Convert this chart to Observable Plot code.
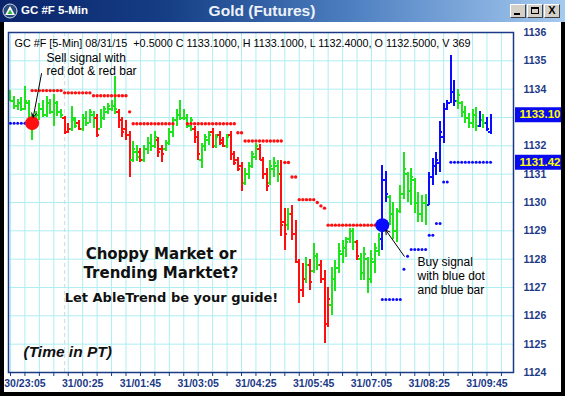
<!DOCTYPE html>
<html>
<head>
<meta charset="utf-8">
<script src="https://cdn.jsdelivr.net/npm/d3@7"></script>
<script src="https://cdn.jsdelivr.net/npm/@observablehq/plot@0.6"></script>
<style>
  body { margin: 0; background: #000; }
  #win { position: relative; width: 565px; height: 396px; background: #000; overflow: hidden;
         font-family: "Liberation Sans", Arial, sans-serif; }
  #titlebar { position: absolute; left: 0; top: 0; width: 565px; height: 22px;
              background: linear-gradient(90deg, #0a246a 0%, #163f86 30%, #4d7fc0 62%, #a6caf0 100%); }
  #titlebar .sym { position: absolute; left: 2px; top: 3px; }
  #titlebar .left { position: absolute; left: 21px; top: 4px; color: #fff; font-weight: bold; font-size: 11.5px; }
  #titlebar .center { position: absolute; left: 0; width: 524px; top: 2px; text-align: center;
                      color: #eef2f8; font-weight: bold; font-size: 15.5px; }
  #titlebar .btns { position: absolute; left: 510px; top: 4px; display: flex; gap: 1px; }
  #titlebar .btn { position: relative; width: 16px; height: 14px; box-sizing: border-box; background: #d4d0c8;
                   border: 1px solid; border-color: #fff #404040 #404040 #fff; }
  #chart { position: absolute; left: 4px; top: 22px; width: 557px; height: 370px; background: #fff; overflow: hidden; }
</style>
</head>
<body>
<div id="win">
  <div id="titlebar">
    <svg class="sym" width="16" height="16" viewBox="0 0 16 16">
      <circle cx="8" cy="8" r="7" fill="#2b4a7c" stroke="#d0dae8" stroke-width="1"/>
      <polygon points="8,3 13,12 3,12" fill="#ffffff"/>
      <polygon points="8,6.5 10.6,11 5.4,11" fill="#2fbf3a"/>
    </svg>
    <div class="left">GC #F 5-Min</div>
    <div class="center">Gold (Futures)</div>
    <div class="btns">
      <div class="btn"><div style="position:absolute;left:3px;top:8px;width:6px;height:2px;background:#000"></div></div>
      <div class="btn"><div style="position:absolute;left:3px;top:2px;width:8px;height:7px;box-sizing:border-box;border:1px solid #000;border-top-width:2px"></div></div>
      <div class="btn"><div style="position:absolute;left:0;top:-1px;width:14px;text-align:center;font:bold 11px 'Liberation Sans',Arial,sans-serif;color:#000">X</div></div>
    </div>
  </div>
  <div id="chart"></div>
</div>
<script>
// 5-minute OHLC bars, GC #F, starting 30/22:45 (bar 0)
const opens = [
  1133.7, 1133.6, 1133.4, 1133.5, 1133.3, 1133.5, 1133.0, 1132.7, 1133.1, 1133.3,
  1133.1, 1133.5, 1133.2, 1133.5, 1133.2, 1133.0, 1132.5, 1132.6, 1132.9, 1132.8,
  1132.6, 1133.0, 1132.8, 1133.1, 1133.0, 1132.6, 1133.0, 1133.2, 1133.3, 1133.4,
  1133.2, 1132.9, 1132.6, 1132.4, 1131.5, 1131.8, 1131.8, 1131.5, 1131.9, 1132.1,
  1132.0, 1132.2, 1131.9, 1131.9, 1132.1, 1132.5, 1132.9, 1133.1, 1133.0, 1133.0,
  1132.7, 1132.6, 1132.3, 1131.5, 1132.0, 1132.2, 1132.5, 1132.0, 1132.4, 1132.2,
  1132.0, 1132.4, 1131.7, 1131.5, 1131.3, 1130.7, 1131.0, 1131.3, 1131.6, 1131.9,
  1131.5, 1131.0, 1130.7, 1131.2, 1131.3, 1131.0, 1129.3, 1129.2, 1129.6, 1128.9,
  1127.9, 1126.9, 1127.3, 1127.8, 1127.6, 1128.1, 1127.8, 1127.3, 1125.7, 1126.4,
  1127.3, 1127.7, 1128.2, 1128.4, 1128.7, 1129.0, 1128.6, 1128.0, 1127.5, 1128.0,
  1127.3, 1127.9, 1128.3, 1128.7, 1130.8, 1130.2, 1129.6, 1129.0, 1129.7, 1130.3,
  1131.0, 1130.4, 1130.8, 1130.0, 1129.6, 1130.0, 1129.9, 1130.9, 1131.3, 1131.4,
  1132.3, 1133.3, 1133.5, 1133.9, 1133.6, 1133.5, 1133.2, 1133.0, 1132.8, 1133.1,
  1132.7, 1132.9, 1132.8, 1132.5
];
const highs = [
  1133.95, 1133.75, 1133.65, 1133.7, 1134.1, 1133.6, 1133.1, 1133.2, 1133.5, 1133.6,
  1133.75, 1133.65, 1133.8, 1133.55, 1133.3, 1133.05, 1132.8, 1133.4, 1133.0, 1132.9,
  1133.1, 1133.2, 1133.3, 1133.2, 1133.1, 1133.3, 1133.4, 1133.5, 1133.6, 1134.45,
  1133.3, 1133.0, 1132.9, 1132.5, 1132.17, 1132.0, 1131.9, 1132.0, 1132.3, 1132.4,
  1132.5, 1132.3, 1132.0, 1132.2, 1132.6, 1133.0, 1133.3, 1133.6, 1133.3, 1133.1,
  1133.0, 1132.7, 1132.5, 1132.1, 1132.4, 1132.5, 1132.6, 1132.4, 1132.5, 1132.3,
  1132.4, 1132.5, 1131.8, 1131.6, 1131.4, 1131.2, 1131.4, 1131.8, 1132.1, 1132.05,
  1131.6, 1131.2, 1131.5, 1131.6, 1131.5, 1131.5, 1129.8, 1129.8, 1129.9, 1129.35,
  1128.0, 1127.85, 1128.05, 1128.0, 1128.55, 1128.2, 1127.95, 1127.6, 1127.0, 1127.7,
  1127.95, 1128.55, 1128.65, 1128.75, 1129.1, 1129.1, 1128.65, 1128.2, 1128.4, 1128.05,
  1128.3, 1128.55, 1128.9, 1131.3, 1131.1, 1130.25, 1130.0, 1129.8, 1130.6, 1131.75,
  1131.05, 1131.2, 1130.85, 1130.35, 1130.25, 1130.3, 1131.05, 1131.55, 1131.75, 1132.87,
  1133.5, 1133.6, 1135.2, 1134.3, 1134.0, 1133.55, 1133.4, 1133.15, 1133.3, 1133.35,
  1133.2, 1133.1, 1133.0, 1133.1
];
const lows = [
  1133.55, 1133.3, 1133.25, 1133.2, 1133.25, 1132.9, 1132.2, 1132.6, 1132.9, 1133.0,
  1133.0, 1133.1, 1132.7, 1133.05, 1132.95, 1132.4, 1132.45, 1132.5, 1132.6, 1132.55,
  1132.5, 1132.7, 1132.8, 1132.6, 1132.3, 1132.6, 1132.9, 1133.1, 1133.2, 1133.1,
  1132.6, 1132.3, 1132.2, 1130.9, 1131.4, 1131.45, 1131.4, 1131.4, 1131.7, 1131.8,
  1131.9, 1131.6, 1131.4, 1131.8, 1132.0, 1132.3, 1132.7, 1132.9, 1132.9, 1132.6,
  1132.5, 1132.1, 1131.5, 1131.2, 1131.8, 1132.0, 1131.9, 1131.9, 1132.0, 1131.95,
  1131.9, 1131.5, 1131.3, 1131.1, 1130.4, 1130.6, 1130.8, 1131.2, 1131.5, 1131.5,
  1130.8, 1130.4, 1130.6, 1130.9, 1130.7, 1128.8, 1128.3, 1129.0, 1128.65, 1127.85,
  1126.45, 1126.65, 1127.15, 1126.9, 1127.5, 1127.6, 1127.15, 1125.03, 1125.6, 1126.0,
  1126.85, 1127.5, 1127.85, 1128.05, 1128.55, 1128.3, 1127.95, 1127.25, 1127.25, 1126.8,
  1127.15, 1127.5, 1128.1, 1128.3, 1130.0, 1129.2, 1128.7, 1128.6, 1129.6, 1130.1,
  1130.0, 1129.9, 1129.6, 1129.3, 1129.3, 1129.2, 1129.9, 1130.6, 1130.95, 1131.05,
  1132.1, 1133.25, 1133.5, 1133.4, 1133.3, 1133.0, 1132.8, 1132.6, 1132.6, 1132.5,
  1132.65, 1132.6, 1132.5, 1132.4
];
const closes = [
  1133.6, 1133.4, 1133.5, 1133.3, 1133.6, 1133.0, 1132.7, 1133.1, 1133.3, 1133.1,
  1133.5, 1133.2, 1133.5, 1133.2, 1133.1, 1132.5, 1132.6, 1133.0, 1132.7, 1132.6,
  1133.0, 1132.8, 1133.2, 1132.7, 1132.4, 1133.1, 1133.3, 1133.4, 1133.5, 1133.3,
  1132.9, 1132.5, 1132.4, 1131.3, 1131.9, 1131.6, 1131.5, 1131.9, 1132.1, 1132.0,
  1132.3, 1131.8, 1131.7, 1132.1, 1132.5, 1132.9, 1133.1, 1133.0, 1133.2, 1132.7,
  1132.9, 1132.3, 1131.7, 1132.0, 1132.3, 1132.4, 1132.0, 1132.3, 1132.1, 1132.0,
  1132.3, 1131.7, 1131.4, 1131.2, 1130.7, 1131.0, 1131.3, 1131.7, 1132.0, 1131.6,
  1131.0, 1130.6, 1131.3, 1131.4, 1131.0, 1129.2, 1128.9, 1129.6, 1128.9, 1128.1,
  1126.9, 1127.3, 1127.8, 1127.2, 1128.3, 1127.8, 1127.3, 1125.6, 1126.6, 1127.4,
  1127.7, 1128.3, 1128.5, 1128.6, 1129.0, 1128.6, 1128.1, 1127.5, 1128.2, 1127.3,
  1128.0, 1128.4, 1128.7, 1130.8, 1130.3, 1129.6, 1129.0, 1129.5, 1130.3, 1131.2,
  1130.4, 1130.9, 1130.0, 1129.6, 1130.0, 1129.9, 1130.9, 1131.3, 1131.5, 1132.5,
  1133.3, 1133.5, 1133.9, 1133.6, 1133.8, 1133.2, 1133.0, 1132.8, 1133.1, 1132.7,
  1133.0, 1132.8, 1132.6, 1133.1
];
// trend state of each bar: g = sideways, r = down, b = up
const trendCodes = (
  "gggggggggg" + "gggggrrggr" + "ggggrggggg" + "rrrrggrggg" + "grrggggggg" +
  "grrgggrgrr" + "grrrrggggr" + "rrgggrrgrr" + "rrgrggrrrg" + "ggggggrggg" +
  "gggbbggggg" + "ggggggbbbb" + "bbbbgggggg" + "bgbb"
).split("");

// trailing stop of each bar, and which side it protects (r = short, b = long)
const stopLevels = [
  1132.8, 1132.8, 1132.8, 1132.8, 1132.8, 1132.8, 1133.95, 1133.95, 1133.95, 1133.95,
  1133.95, 1133.95, 1133.95, 1133.95, 1133.95, 1133.87, 1133.87, 1133.87, 1133.87, 1133.87,
  1133.87, 1133.87, 1133.87, 1133.77, 1133.77, 1133.77, 1133.77, 1133.77, 1133.77, 1133.77,
  1133.77, 1133.77, 1133.77, 1133.2, 1132.78, 1132.78, 1132.78, 1132.78, 1132.78, 1132.78,
  1132.78, 1132.78, 1132.78, 1132.78, 1132.78, 1132.78, null, null, null, 1132.78,
  1132.78, 1132.78, 1132.78, 1132.78, 1132.78, 1132.78, 1132.78, 1132.78, 1132.78, 1132.78,
  1132.78, 1132.78, 1132.78, 1132.46, 1132.46, 1132.17, 1132.17, 1132.17, 1132.17, 1132.17,
  1132.17, 1132.17, 1132.17, 1132.17, 1132.17, 1132.17, 1131.41, 1131.41, 1130.9, 1130.9,
  1130.1, 1130.1, 1130.1, 1130.1, 1130.1, 1130.0, 1129.88, 1129.8, 1129.2, 1129.2,
  1129.2, 1129.2, 1129.2, 1129.2, 1129.2, 1129.2, 1129.2, 1129.2, 1129.2, 1129.2,
  1129.2, 1129.2, 1129.2, 1126.58, 1126.58, 1126.58, 1126.58, 1126.58, 1126.58, 1127.64,
  1128.1, 1128.34, 1128.34, 1128.34, 1128.34, 1128.34, 1128.84, 1128.84, 1129.26, 1129.26,
  1130.72, 1130.72, 1131.42, 1131.42, 1131.42, 1131.42, 1131.42, 1131.42, 1131.42, 1131.42,
  1131.42, 1131.42, 1131.42, 1131.42
];
const stopSides = (
  "bbbbbbrrrr" + "rrrrrrrrrr" + "rrrrrrrrrr" + "rrrrrrrrrr" + "rrrrrr---r" +
  "rrrrrrrrrr" + "rrrrrrrrrr" + "rrrrrrrrrr" + "rrrrrrrrrr" + "rrrrrrrrrr" +
  "rrrbbbbbbb" + "bbbbbbbbbb" + "bbbbbbbbbb" + "bbbb"
).split("");

const sellSignal = {bar: 6, price: 1132.8};
const buySignal = {bar: 103, price: 1129.2};
const lastVolume = 369;

const priceTicks = [1124, 1125, 1126, 1127, 1128, 1129, 1130, 1131, 1132, 1133, 1134, 1135, 1136];
const labelBars = [4, 20, 36, 52, 68, 84, 100, 116, 132];
const labelTexts = ["30/23:05", "31/00:25", "31/01:45", "31/03:05", "31/04:25",
                    "31/05:45", "31/07:05", "31/08:25", "31/09:45"];
const sessionBreakBar = 15; // 31/00:00

// ---- derived tables ----
const bars = opens.map((o, i) => ({
  i, open: o, high: highs[i], low: lows[i], close: closes[i], trend: trendCodes[i]
}));
const stops = stopLevels
  .map((v, i) => ({i, v, side: stopSides[i]}))
  .filter(d => d.v != null);
const gridBars = d3.range(0, 140, 4);
const labelOf = new Map(labelBars.map((b, k) => [b, labelTexts[k]]));

const trendColor = {g: "#1ee41e", r: "#ff0f0f", b: "#0b0bff"};
const gridColor = "#aeeef2";
const navy = "#1b3a86";
const tick = 0.62;

const last = bars[bars.length - 1];
const prev = bars[bars.length - 2];
const change = last.close - prev.close;
const header = `GC #F [5-Min] 08/31/15  ${change >= 0 ? "+" : "-"}${Math.abs(change).toFixed(4)} ` +
  `C ${last.close.toFixed(4)}, H ${last.high.toFixed(4)}, L ${last.low.toFixed(4)}, ` +
  `O ${last.open.toFixed(4)}, V ${lastVolume}`;

// layout of the price pane
const W = 557, H = 370, mL = 4, mR = 48;
const xDomain = [-0.55, 139.35];
const pxPerBar = (W - mL - mR) / (xDomain[1] - xDomain[0]);
const xEdge = xDomain[1];

// right-margin price flags: last close and the current long stop
const flags = [last.close, stopLevels[stopLevels.length - 1]];
// a price label sitting under a flag is not printed
const hiddenByFlag = p => flags.some(f => Math.abs(f - p) < 0.3);

const plot = Plot.plot({
  width: W,
  height: H,
  marginLeft: mL,
  marginRight: mR,
  marginTop: 10,
  marginBottom: 20,
  x: {domain: xDomain, axis: null},
  y: {domain: [1124, 1136], axis: null},
  style: {fontFamily: "'Liberation Sans', Arial, sans-serif", background: "#fff", overflow: "visible"},
  marks: [
    // grid
    Plot.ruleY(priceTicks, {stroke: gridColor}),
    Plot.ruleX(gridBars, {stroke: gridColor}),
    Plot.ruleX([sessionBreakBar], {stroke: "#c2dde4", strokeDasharray: "4,3"}),

    // OHLC bars
    Plot.ruleX(bars, {x: "i", y1: "low", y2: "high", stroke: d => trendColor[d.trend], strokeWidth: 2, shapeRendering: "crispEdges"}),
    Plot.ruleY(bars, {y: "open", x1: d => d.i - tick, x2: "i", stroke: d => trendColor[d.trend], strokeWidth: 2, shapeRendering: "crispEdges"}),
    Plot.ruleY(bars, {y: "close", x1: "i", x2: d => d.i + tick, stroke: d => trendColor[d.trend], strokeWidth: 2, shapeRendering: "crispEdges"}),

    // trailing stops
    Plot.dot(stops.filter(d => d.side === "r"), {x: "i", y: "v", r: 1.7, fill: trendColor.r}),
    Plot.dot(stops.filter(d => d.side === "b"), {x: "i", y: "v", r: 1.5, fill: trendColor.b}),

    // signals
    Plot.dot([sellSignal], {x: "bar", y: "price", r: 7, fill: trendColor.r}),
    Plot.dot([buySignal], {x: "bar", y: "price", r: 7, fill: trendColor.b}),

    // call-outs
    Plot.arrow([sellSignal], {
      x1: d => d.bar + 2.6, y1: d => d.price + 1.75, x2: "bar", y2: "price",
      stroke: "#000", strokeWidth: 1, headLength: 7, insetEnd: 6
    }),
    Plot.arrow([buySignal], {
      x1: d => d.bar + 6.1, y1: d => d.price - 1.1, x2: "bar", y2: "price",
      stroke: "#000", strokeWidth: 1, headLength: 7, insetEnd: 6
    }),
    Plot.text([header], {frameAnchor: "top-left", dx: 6, dy: 11, textAnchor: "start", lineAnchor: "middle", fontSize: 10.8, fill: "#000"}),
    Plot.text(["Sell signal with\nred dot & red bar"], {frameAnchor: "top-left", dx: 38, dy: 31.5, textAnchor: "start", lineAnchor: "middle", lineHeight: 1.08, fontSize: 12, fill: "#000"}),
    Plot.text(["Buy signal\nwith blue dot\nand blue bar"], {frameAnchor: "top-left", dx: 409, dy: 243, textAnchor: "start", lineAnchor: "middle", lineHeight: 1.18, fontSize: 12, fill: "#000"}),
    Plot.text(["Choppy Market or\nTrending Marktet?"], {frameAnchor: "top-left", dx: 152.5, dy: 230, textAnchor: "middle", lineAnchor: "middle", lineHeight: 1.27, fontSize: 15, fontWeight: "bold", fontFamily: "DejaVu Sans", fill: "#111"}),
    Plot.text(["Let AbleTrend be your guide!"], {frameAnchor: "top-left", dx: 163, dy: 265, textAnchor: "middle", lineAnchor: "middle", fontSize: 13, fontWeight: "bold", fontFamily: "DejaVu Sans", fill: "#111"}),
    Plot.text(["(Time in PT)"], {frameAnchor: "top-left", dx: 15, dy: 320, textAnchor: "start", lineAnchor: "middle", fontSize: 15.5, fontWeight: "bold", fontStyle: "italic", fill: "#111"}),

    // axes and frame
    Plot.axisY(priceTicks, {anchor: "right", tickSize: 0, tickPadding: 10, tickFormat: d => hiddenByFlag(d) ? "" : String(d), fontSize: 10.5, fontWeight: "bold", color: navy, label: null}),
    Plot.axisX(gridBars, {anchor: "bottom", tickSize: 4, tickPadding: 3, tickFormat: b => labelOf.get(b) ?? "", fontSize: 10.5, fontWeight: "bold", color: navy, label: null}),
    Plot.frame({stroke: navy, strokeWidth: 1.5}),

    // price flags over the axis labels
    Plot.ruleY(flags, {
      y: d => d, x1: xEdge + 2 / pxPerBar, x2: xEdge + mR / pxPerBar,
      stroke: "#0a0aee", strokeWidth: 15
    }),
    Plot.text(flags, {
      y: d => d, x: xEdge + 6 / pxPerBar, text: d => d.toFixed(2),
      textAnchor: "start", fill: "#ffff00", fontWeight: "bold", fontSize: 11.5
    })
  ]
});

document.getElementById("chart").append(plot);
</script>
</body>
</html>
